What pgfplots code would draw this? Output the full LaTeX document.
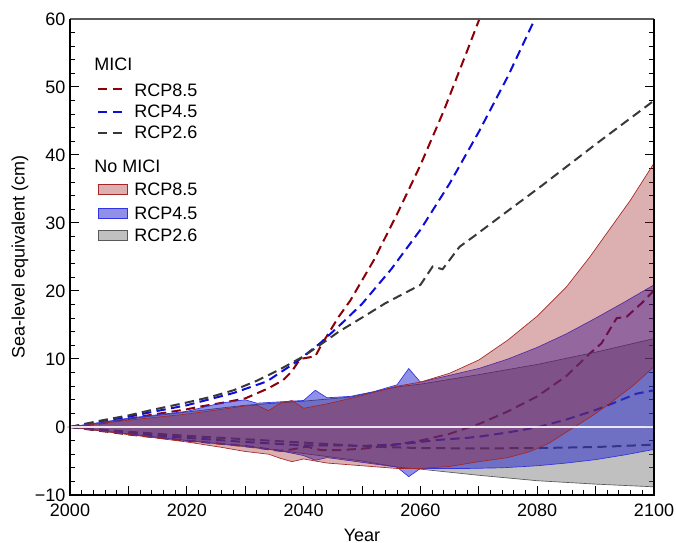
\documentclass[border=0pt]{standalone}
\usepackage{pgfplots}
\pgfplotsset{compat=1.18}
\usepackage{fontspec}
\setmainfont{Liberation Sans}
\definecolor{mred}{rgb}{0.55,0.0,0.03}
\definecolor{mblue}{rgb}{0.05,0.05,0.85}
\definecolor{mblack}{rgb}{0.22,0.22,0.22}
\definecolor{rfill}{rgb}{0.61,0.114,0.114}
\definecolor{bfill}{rgb}{0.08,0.08,0.79}
\definecolor{gfill}{rgb}{0.45,0.45,0.45}
\definecolor{redge}{rgb}{0.65,0.15,0.15}
\definecolor{bedge}{rgb}{0.2,0.2,0.9}
\definecolor{gedge}{rgb}{0.35,0.35,0.35}
\newcommand{\fs}{\fontsize{13.5}{16}\selectfont}
\pgfplotsset{
  dashleg/.style={legend image code/.code={\draw[##1] (0pt,0pt) -- (20pt,0pt);}},
  arealeg/.style={legend image code/.code={\draw[##1] (0pt,-3.8pt) rectangle (22pt,3.8pt);}},
  mici/.style={line width=1.5pt, dash pattern=on 7pt off 4pt},
}
\begin{document}
\begin{tikzpicture}
\begin{axis}[
  scale only axis, width=438pt, height=357pt,
  xmin=2000, xmax=2100, ymin=-10, ymax=60,
  clip=false,
  xtick={2000,2010,...,2100},
  xticklabels={2000,,2020,,2040,,2060,,2080,,2100},
  minor x tick num=4,
  ytick={-10,0,...,60},
  yticklabels={−10,0,10,20,30,40,50,60},
  minor y tick num=4,
  tick align=inside,
  xtick pos=left, ytick pos=both,
  major tick length=7pt, minor tick length=3.5pt,
  every tick/.style={black, line width=0.75pt},
  axis line style={draw=none},
  /pgf/number format/assume math mode=true,
  tick label style={font=\fs},
  xticklabel style={yshift=-3.5pt},
  label style={font=\fs},
  xlabel={Year}, ylabel={Sea-level equivalent (cm)},
  xlabel style={at={(rel axis cs:0.5,0)}, anchor=center, yshift=-30pt},
  ylabel style={at={([xshift=-37.5pt]rel axis cs:0,0.5)}, anchor=center},
  legend style={draw=none, fill=none, at={(rel axis cs:0.046,0.925)}, anchor=north west,
    font=\fs, row sep=1pt, inner sep=0pt, column sep=3pt},
  legend cell align=left,
]
\coordinate (SW) at (rel axis cs:0,0);
\coordinate (NE) at (rel axis cs:1,1);
% ---- MICI upper/lower (dashed) ----
\addplot[mred, mici, forget plot] coordinates {(2000,0) (2005,0.5) (2010,1.2) (2014,1.8) (2020,2.6) (2022.3,3.0) (2027,3.7) (2030,4.2) (2034,5.7) (2036.5,6.9) (2038,8.2) (2039.4,10.0) (2042,10.4) (2043,12.0) (2046,16.2) (2048,18.6) (2052,24.5) (2056,31.3) (2060,38.5) (2064,46.5) (2068,55.3) (2070.1,60)};
\addplot[mblue, mici, forget plot] coordinates {(2000,0) (2005,0.8) (2010,1.5) (2014,2.2) (2020,3.2) (2028,5.0) (2033.7,6.7) (2038.8,9.6) (2042.8,12.3) (2046,14.8) (2050,18.1) (2055,23.2) (2060,29.0) (2065,35.8) (2070,43.4) (2075,51.6) (2079.6,60)};
\addplot[mblack, mici, forget plot] coordinates {(2000,0) (2005,0.9) (2010,1.7) (2014,2.5) (2020,3.6) (2024,4.4) (2028,5.4) (2032,6.8) (2036,8.5) (2040,10.4) (2042.8,12.06) (2046,14.0) (2050.8,16.5) (2054,18.2) (2058,20.0) (2060,20.9) (2062.1,23.6) (2063.8,23.2) (2066.7,26.5) (2069.1,28.0) (2075,31.8) (2080.5,35.3) (2090.2,41.7) (2100,48.0)};
\addplot[mred, mici, forget plot] coordinates {(2000,0) (2010,-1.1) (2020,-2.0) (2030,-2.8) (2036,-3.5) (2038,-3.3) (2040.5,-2.9) (2043,-3.4) (2046,-3.4) (2050,-3.2) (2055,-2.7) (2060,-2.0) (2065,-1.0) (2070.2,0.5) (2075,2.3) (2080,4.5) (2085,7.5) (2089,10.8) (2091,12.3) (2093.6,16.0) (2095.3,16.2) (2098,18.3) (2100,20.1)};
\addplot[mblue, mici, forget plot] coordinates {(2000,0) (2010,-0.9) (2020,-1.6) (2030,-2.2) (2040,-2.7) (2046,-2.7) (2050,-2.8) (2057,-2.5) (2063,-1.9) (2068,-1.6) (2070.2,-1.4) (2075,-0.8) (2080,-0.05) (2085,1.1) (2090,2.5) (2093,3.5) (2097,4.9) (2100,5.4)};
\addplot[mblack, mici, forget plot] coordinates {(2000,0) (2010,-0.7) (2020,-1.3) (2030,-1.8) (2040,-2.3) (2046,-2.6) (2052,-2.9) (2060,-3.1) (2070,-3.15) (2080,-3.1) (2090,-2.95) (2100,-2.6)};
% ---- No MICI ranges (bands) ----
\addplot[draw=gedge, line width=0.5pt, fill=gfill, fill opacity=0.45, forget plot] coordinates {
 (2000,0) (2010,1.2) (2020,2.2) (2030,3.2) (2040,3.8) (2048,4.4) (2056,5.9) (2060,6.3) (2070,7.7) (2080,9.2) (2090,11.0) (2100,13.0)
 (2100,-8.8) (2090,-8.4) (2080,-7.9) (2070,-7.1) (2060,-6.2) (2056,-5.9) (2050,-5.0) (2040,-3.9) (2030,-2.9) (2020,-2.0) (2010,-1.1)} -- cycle;
\addplot[draw=bedge, line width=0.5pt, fill=bfill, fill opacity=0.47, forget plot] coordinates {
 (2000,0) (2010,1.3) (2020,2.3) (2025.7,3.5) (2030,4.0) (2032,3.5) (2036,3.7) (2040,3.9) (2042,5.4) (2044,4.3) (2048,4.5) (2052,5.2) (2056,6.2) (2058,8.6) (2060,6.6) (2064,7.4) (2070,8.6) (2075,10.0) (2080,11.7) (2085,13.7) (2090,16.0) (2095,18.4) (2100,20.9)
 (2100,-3.3) (2095,-4.1) (2090,-4.8) (2085,-5.3) (2080,-5.7) (2074,-6.0) (2068,-6.1) (2064,-6.1) (2060,-6.1) (2058,-7.3) (2056,-5.9) (2050,-5.2) (2044,-4.5) (2042,-4.9) (2040,-4.2) (2036,-3.5) (2030,-2.8) (2020,-2.0) (2010,-1.0)} -- cycle;
\addplot[draw=redge, line width=0.5pt, fill=rfill, fill opacity=0.35, forget plot] coordinates {
 (2000,0) (2010,1.0) (2020,1.9) (2026,2.6) (2030,3.1) (2032,3.2) (2034,2.4) (2036,3.5) (2038,3.9) (2040,2.75) (2044,3.4) (2049,4.4) (2056,6.0) (2060,6.6) (2065,7.9) (2070,9.85) (2075,12.8) (2080,16.3) (2085,20.6) (2089,25.0) (2093,29.8) (2096,33.4) (2100,38.8)
 (2100,8.9) (2098,7.3) (2096,5.8) (2094,4.5) (2092,3.2) (2089,1.4) (2086,-0.2) (2082,-2.4) (2078.8,-3.6) (2075,-4.5) (2070,-5.1) (2065,-5.8) (2060,-6.1) (2056,-6.1) (2050,-5.7) (2044,-5.3) (2042,-5.0) (2040,-4.7) (2038,-5.1) (2036,-4.6) (2034,-4.0) (2030,-3.6) (2026,-3.0) (2020,-2.2) (2010,-1.1)} -- cycle;
% zero line
\addplot[white, opacity=0.85, line width=1.2pt, forget plot] coordinates {(2000,0) (2100,0)};
% frame
\draw[gedge, line width=0.8pt] (rel axis cs:0,1) -- (rel axis cs:1,1);
\draw[black, line width=1.5pt] (rel axis cs:0,1) -- (rel axis cs:0,0) -- (rel axis cs:1,0) -- (rel axis cs:1,1);
% legend
\addlegendimage{empty legend}\addlegendentry{\hspace*{-30pt}MICI}
\addlegendimage{dashleg, mred, mici}\addlegendentry{\rule{0pt}{13pt}RCP8.5}
\addlegendimage{dashleg, mblue, mici}\addlegendentry{RCP4.5}
\addlegendimage{dashleg, mblack, mici}\addlegendentry{RCP2.6}
\addlegendimage{empty legend}\addlegendentry{\rule{0pt}{19pt}\hspace*{-30pt}No MICI}
\addlegendimage{arealeg, draw=redge, fill=rfill, fill opacity=0.35}\addlegendentry{\rule{0pt}{11pt}RCP8.5}
\addlegendimage{arealeg, draw=bedge, fill=bfill, fill opacity=0.47}\addlegendentry{\rule{0pt}{11pt}RCP4.5}
\addlegendimage{arealeg, draw=gedge, fill=gfill, fill opacity=0.45}\addlegendentry{\rule{0pt}{10pt}RCP2.6}
\end{axis}
\pgfresetboundingbox
\path[use as bounding box] ([xshift=-52.5pt,yshift=-36pt]SW) rectangle ([xshift=16.5pt,yshift=14.25pt]NE);
\end{tikzpicture}
\end{document}
